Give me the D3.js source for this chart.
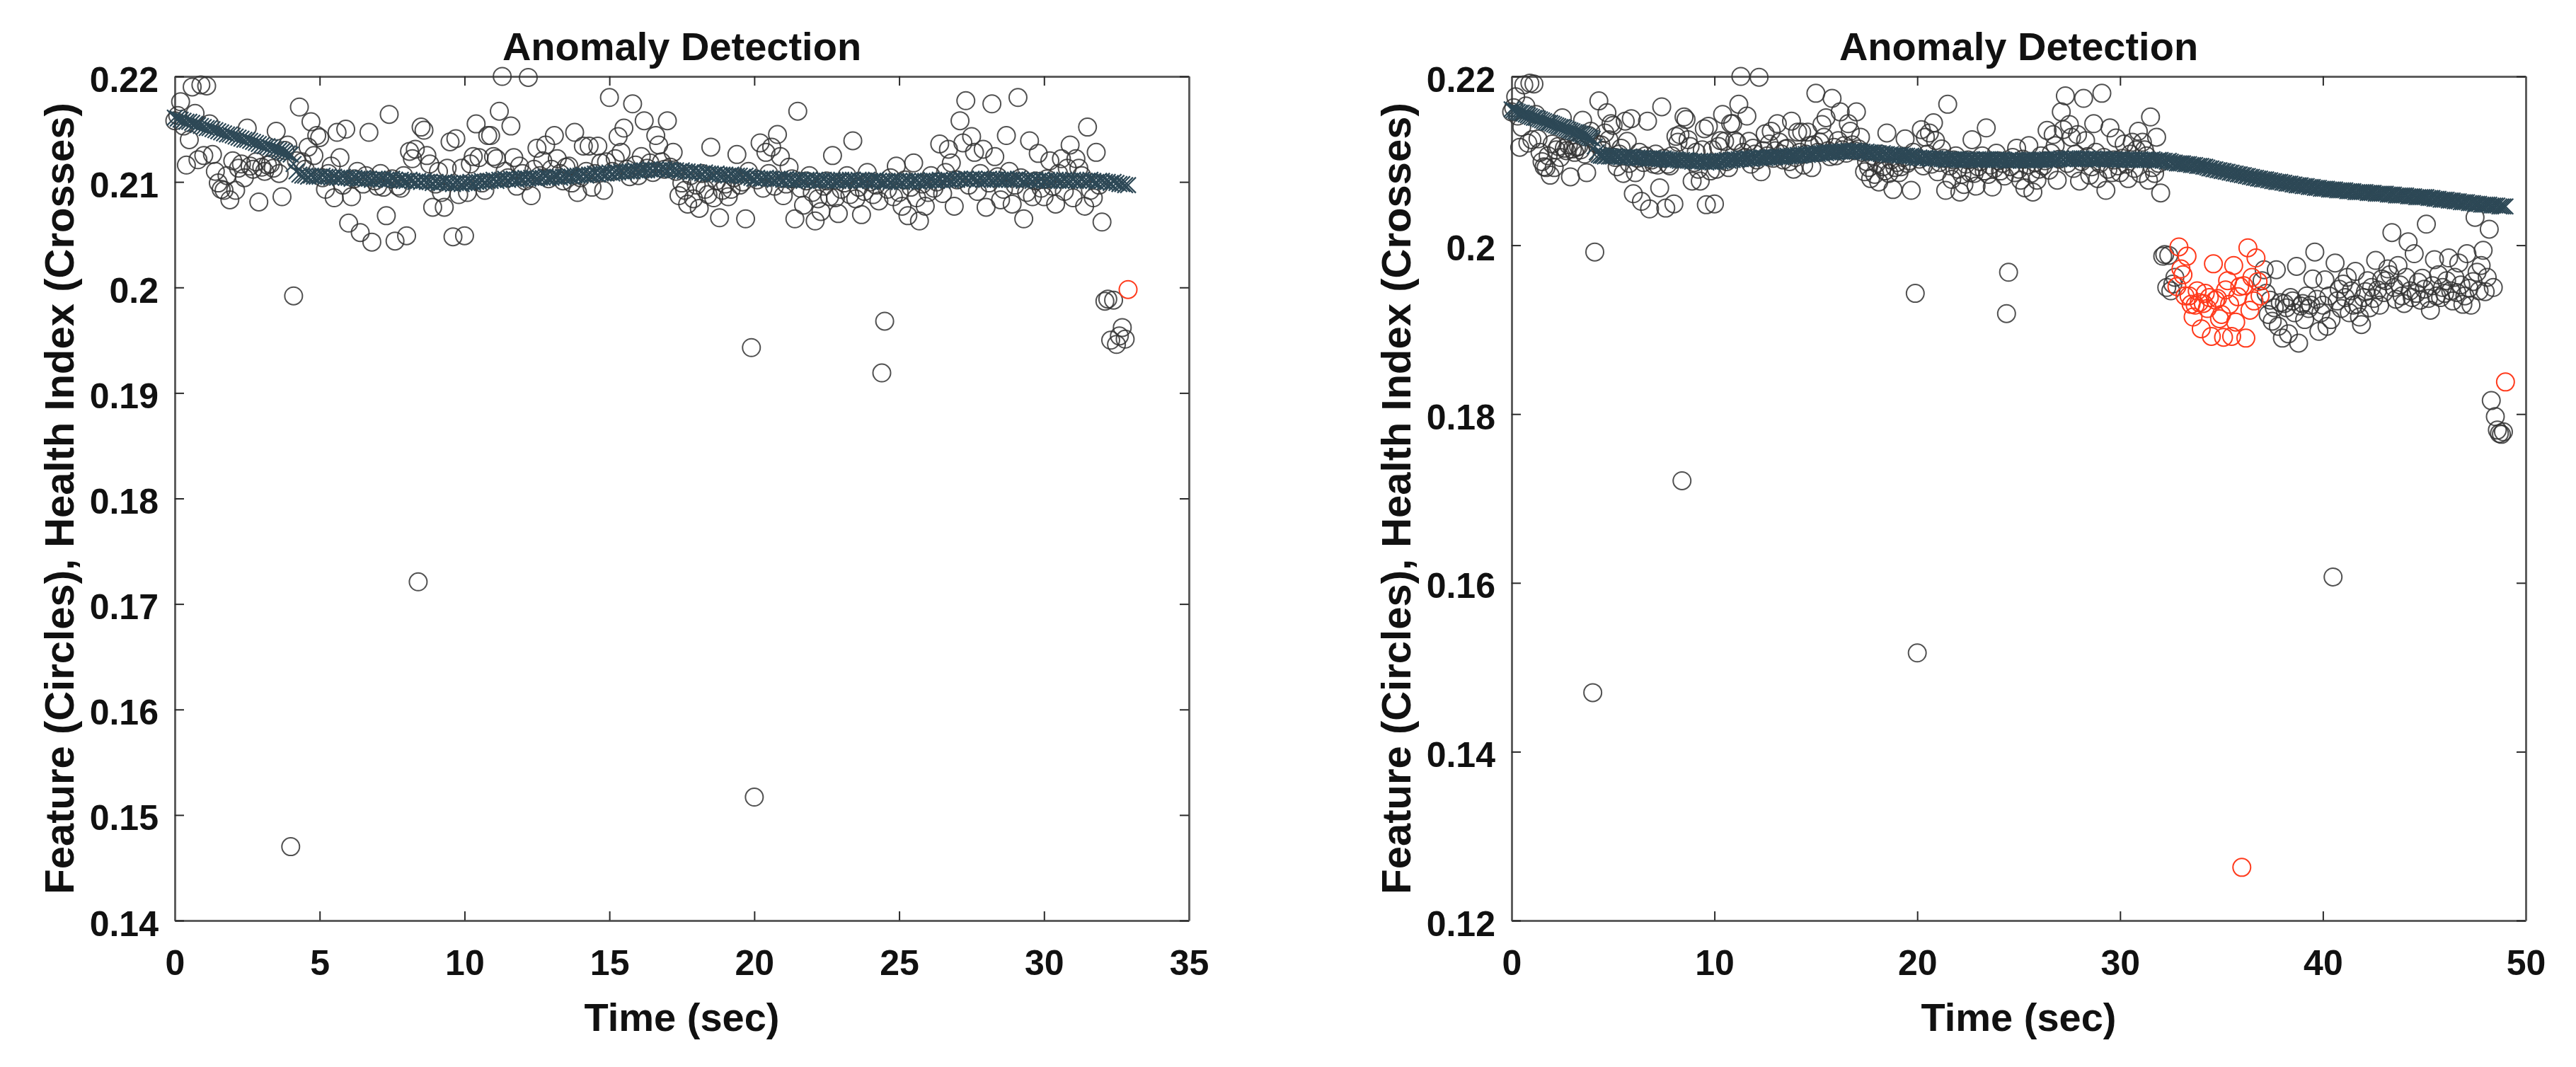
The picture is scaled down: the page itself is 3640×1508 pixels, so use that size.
<!DOCTYPE html>
<html>
<head>
<meta charset="utf-8">
<script src="https://cdn.jsdelivr.net/npm/d3@7"></script>
<style>
body { margin: 0; background: #fff; }
text { font-family: "Liberation Sans", Arial, sans-serif; font-weight: bold; fill: #111; }
</style>
</head>
<body>
<svg id="chart" width="3640" height="1508"></svg>
<script>
// sampling step of the feature (sec)
const dt = 0.1

// feature value at every sample, one row = one second
const feature = [
	0.2158, 0.2163, 0.2176, 0.2153, 0.2116, 0.2140, 0.2190, 0.2165, 0.2121, 0.2192,
	0.2125, 0.2191, 0.2155, 0.2126, 0.2110, 0.2099, 0.2093, 0.2092, 0.2106, 0.2083,
	0.2120, 0.2092, 0.2113, 0.2117, 0.2104, 0.2151, 0.2115, 0.2112, 0.2119, 0.2081,
	0.2114, 0.2110, 0.2116, 0.2117, 0.2113, 0.2148, 0.2108, 0.2086, 0.2130, 0.2135,
	0.1470, 0.1992, 0.2120, 0.2171, 0.2119, 0.2112, 0.2133, 0.2157, 0.2125, 0.2144,
	0.2142, 0.2104, 0.2093, 0.2108, 0.2115, 0.2085, 0.2147, 0.2123, 0.2097, 0.2150,
	0.2061, 0.2086, 0.2103, 0.2110, 0.2052, 0.2098, 0.2106, 0.2147, 0.2043, 0.2101,
	0.2096, 0.2108, 0.2095, 0.2068, 0.2164, 0.2103, 0.2044, 0.2096, 0.2094, 0.2106,
	0.2049, 0.2129, 0.2122, 0.2131, 0.1721, 0.2152, 0.2149, 0.2125, 0.2117, 0.2076,
	0.2098, 0.2110, 0.2090, 0.2076, 0.2113, 0.2138, 0.2048, 0.2141, 0.2088, 0.2113,
	0.2049, 0.2090, 0.2117, 0.2124, 0.2155, 0.2123, 0.2099, 0.2092, 0.2144, 0.2144,
	0.2124, 0.2122, 0.2167, 0.2200, 0.2110, 0.2104, 0.2153, 0.2123, 0.2096, 0.2115,
	0.2108, 0.2101, 0.2199, 0.2087, 0.2112, 0.2132, 0.2106, 0.2120, 0.2135, 0.2103,
	0.2112, 0.2144, 0.2122, 0.2108, 0.2101, 0.2114, 0.2115, 0.2099, 0.2147, 0.2090,
	0.2104, 0.2134, 0.2110, 0.2134, 0.2095, 0.2108, 0.2134, 0.2118, 0.2092, 0.2119,
	0.2180, 0.2110, 0.2122, 0.2143, 0.2128, 0.2151, 0.2112, 0.2105, 0.2174, 0.2116,
	0.2106, 0.2124, 0.2158, 0.2113, 0.2118, 0.2109, 0.2144, 0.2135, 0.2119, 0.2112,
	0.2158, 0.2114, 0.2128, 0.2110, 0.2087, 0.2099, 0.2092, 0.2079, 0.2106, 0.2084,
	0.2097, 0.2075, 0.2108, 0.2093, 0.2088, 0.2133, 0.2085, 0.2101, 0.2066, 0.2092,
	0.2098, 0.2086, 0.2093, 0.2104, 0.2126, 0.2097, 0.2100, 0.2065, 0.2110, 0.1943,
	0.1517, 0.2102, 0.2137, 0.2094, 0.2128, 0.2108, 0.2133, 0.2096, 0.2145, 0.2124,
	0.2087, 0.2098, 0.2114, 0.2103, 0.2065, 0.2167, 0.2094, 0.2078, 0.2101, 0.2106,
	0.2090, 0.2063, 0.2084, 0.2072, 0.2096, 0.2101, 0.2086, 0.2125, 0.2085, 0.2070,
	0.2093, 0.2099, 0.2106, 0.2088, 0.2139, 0.2084, 0.2095, 0.2069, 0.2091, 0.2109,
	0.2100, 0.2088, 0.2097, 0.2082, 0.1919, 0.1968, 0.2093, 0.2104, 0.2086, 0.2115,
	0.2090, 0.2077, 0.2102, 0.2068, 0.2095, 0.2118, 0.2085, 0.2063, 0.2098, 0.2077,
	0.2090, 0.2106, 0.2094, 0.2100, 0.2136, 0.2089, 0.2109, 0.2131, 0.2118, 0.2077,
	0.2102, 0.2158, 0.2137, 0.2177, 0.2097, 0.2143, 0.2128, 0.2091, 0.2108, 0.2131,
	0.2076, 0.2099, 0.2174, 0.2124, 0.2105, 0.2083, 0.2093, 0.2144, 0.2110, 0.2079,
	0.2097, 0.2180, 0.2104, 0.2065, 0.2090, 0.2139, 0.2086, 0.2101, 0.2127, 0.2094,
	0.2086, 0.2103, 0.2120, 0.2096, 0.2079, 0.2108, 0.2122, 0.2091, 0.2113, 0.2135,
	0.2085, 0.2122, 0.2113, 0.2106, 0.2077, 0.2152, 0.2092, 0.2085, 0.2128, 0.2097,
	0.2062, 0.1987, 0.1989, 0.1950, 0.1988, 0.1946, 0.1954, 0.1962, 0.1951, 0.1998,
	0.1972, 0.1965, 0.1940, 0.1987, 0.1940, 0.1930, 0.1915, 0.1929, 0.1946, 0.1932,
	0.1901, 0.1931, 0.1943, 0.1925, 0.1938, 0.1892, 0.1978, 0.1935, 0.1937, 0.1913,
	0.1918, 0.1891, 0.1947, 0.1958, 0.1930, 0.1892, 0.1976, 0.1909, 0.1939, 0.1951,
	0.1263, 0.1952, 0.1890, 0.1997, 0.1923, 0.1962, 0.1934, 0.1985, 0.1957, 0.1940,
	0.1958, 0.1971, 0.1943, 0.1918, 0.1935, 0.1910, 0.1926, 0.1971, 0.1904, 0.1932,
	0.1890, 0.1931, 0.1926, 0.1895, 0.1938, 0.1934, 0.1920, 0.1975, 0.1884, 0.1928,
	0.1931, 0.1912, 0.1940, 0.1925, 0.1929, 0.1960, 0.1992, 0.1936, 0.1898, 0.1920,
	0.1929, 0.1959, 0.1904, 0.1940, 0.1912, 0.1607, 0.1979, 0.1934, 0.1948, 0.1925,
	0.1954, 0.1938, 0.1962, 0.1920, 0.1946, 0.1929, 0.1969, 0.1930, 0.1915, 0.1906,
	0.1938, 0.1945, 0.1958, 0.1926, 0.1950, 0.1937, 0.1982, 0.1947, 0.1929, 0.1960,
	0.1944, 0.1958, 0.1972, 0.1965, 0.2015, 0.1950, 0.1936, 0.1976, 0.1953, 0.1940,
	0.1931, 0.1962, 0.2004, 0.1946, 0.1938, 0.1990, 0.1943, 0.1956, 0.1935, 0.1961,
	0.1948, 0.2025, 0.1937, 0.1923, 0.1952, 0.1983, 0.1940, 0.1965, 0.1938, 0.1950,
	0.1943, 0.1958, 0.1985, 0.1946, 0.1934, 0.1962, 0.1944, 0.1979, 0.1953, 0.1930,
	0.1940, 0.1990, 0.1949, 0.1929, 0.1957, 0.2033, 0.1968, 0.1946, 0.1976, 0.1994,
	0.1945, 0.1962, 0.2019, 0.1816, 0.1950, 0.1797, 0.1781, 0.1777, 0.1776, 0.1779,
	0.1838
]

// health index (crosses), same samples
const healthIndex = [
	0.2161, 0.2160, 0.2159, 0.2158, 0.2157, 0.2157, 0.2156, 0.2155, 0.2154, 0.2153,
	0.2152, 0.2151, 0.2151, 0.2150, 0.2149, 0.2148, 0.2147, 0.2146, 0.2145, 0.2145,
	0.2144, 0.2143, 0.2142, 0.2141, 0.2140, 0.2140, 0.2139, 0.2138, 0.2137, 0.2136,
	0.2135, 0.2134, 0.2134, 0.2133, 0.2132, 0.2131, 0.2130, 0.2129, 0.2128, 0.2127,
	0.2126, 0.2117, 0.2110, 0.2107, 0.2106, 0.2106, 0.2105, 0.2106, 0.2105, 0.2105,
	0.2105, 0.2106, 0.2105, 0.2105, 0.2104, 0.2105, 0.2104, 0.2104, 0.2105, 0.2104,
	0.2104, 0.2103, 0.2104, 0.2103, 0.2103, 0.2104, 0.2103, 0.2103, 0.2102, 0.2103,
	0.2103, 0.2102, 0.2103, 0.2102, 0.2102, 0.2103, 0.2102, 0.2101, 0.2102, 0.2101,
	0.2101, 0.2102, 0.2101, 0.2100, 0.2101, 0.2100, 0.2101, 0.2100, 0.2100, 0.2099,
	0.2100, 0.2099, 0.2099, 0.2100, 0.2099, 0.2099, 0.2098, 0.2099, 0.2099, 0.2098,
	0.2099, 0.2099, 0.2100, 0.2099, 0.2100, 0.2100, 0.2101, 0.2100, 0.2101, 0.2101,
	0.2102, 0.2101, 0.2102, 0.2102, 0.2103, 0.2102, 0.2103, 0.2103, 0.2102, 0.2103,
	0.2103, 0.2104, 0.2103, 0.2104, 0.2104, 0.2103, 0.2104, 0.2104, 0.2105, 0.2104,
	0.2104, 0.2105, 0.2105, 0.2104, 0.2105, 0.2105, 0.2106, 0.2105, 0.2106, 0.2106,
	0.2106, 0.2107, 0.2106, 0.2107, 0.2107, 0.2108, 0.2107, 0.2108, 0.2108, 0.2108,
	0.2109, 0.2108, 0.2109, 0.2109, 0.2110, 0.2109, 0.2110, 0.2110, 0.2110, 0.2111,
	0.2110, 0.2111, 0.2111, 0.2111, 0.2112, 0.2111, 0.2112, 0.2111, 0.2112, 0.2112,
	0.2111, 0.2112, 0.2111, 0.2111, 0.2110, 0.2111, 0.2110, 0.2110, 0.2109, 0.2110,
	0.2109, 0.2109, 0.2108, 0.2109, 0.2108, 0.2108, 0.2107, 0.2108, 0.2107, 0.2107,
	0.2107, 0.2106, 0.2107, 0.2106, 0.2106, 0.2106, 0.2105, 0.2106, 0.2105, 0.2104,
	0.2103, 0.2104, 0.2103, 0.2103, 0.2104, 0.2103, 0.2103, 0.2102, 0.2103, 0.2103,
	0.2102, 0.2103, 0.2102, 0.2102, 0.2101, 0.2102, 0.2102, 0.2101, 0.2102, 0.2102,
	0.2101, 0.2102, 0.2101, 0.2101, 0.2102, 0.2101, 0.2101, 0.2102, 0.2101, 0.2101,
	0.2102, 0.2101, 0.2101, 0.2102, 0.2102, 0.2101, 0.2102, 0.2101, 0.2101, 0.2102,
	0.2101, 0.2101, 0.2102, 0.2101, 0.2100, 0.2100, 0.2101, 0.2100, 0.2101, 0.2101,
	0.2101, 0.2100, 0.2101, 0.2101, 0.2100, 0.2101, 0.2101, 0.2100, 0.2101, 0.2101,
	0.2101, 0.2102, 0.2101, 0.2101, 0.2102, 0.2101, 0.2102, 0.2102, 0.2101, 0.2102,
	0.2102, 0.2103, 0.2102, 0.2103, 0.2102, 0.2103, 0.2103, 0.2102, 0.2103, 0.2102,
	0.2102, 0.2103, 0.2102, 0.2102, 0.2103, 0.2102, 0.2102, 0.2103, 0.2102, 0.2102,
	0.2102, 0.2103, 0.2102, 0.2101, 0.2102, 0.2102, 0.2101, 0.2102, 0.2101, 0.2102,
	0.2101, 0.2102, 0.2101, 0.2101, 0.2102, 0.2101, 0.2101, 0.2102, 0.2101, 0.2101,
	0.2102, 0.2101, 0.2101, 0.2102, 0.2101, 0.2101, 0.2102, 0.2101, 0.2100, 0.2101,
	0.2101, 0.2100, 0.2100, 0.2099, 0.2100, 0.2099, 0.2098, 0.2098, 0.2097, 0.2097,
	0.2097, 0.2097, 0.2096, 0.2096, 0.2096, 0.2095, 0.2095, 0.2095, 0.2094, 0.2094,
	0.2094, 0.2093, 0.2093, 0.2092, 0.2091, 0.2091, 0.2090, 0.2090, 0.2089, 0.2089,
	0.2088, 0.2088, 0.2087, 0.2087, 0.2086, 0.2086, 0.2085, 0.2085, 0.2084, 0.2084,
	0.2083, 0.2083, 0.2082, 0.2082, 0.2081, 0.2081, 0.2080, 0.2080, 0.2079, 0.2079,
	0.2078, 0.2078, 0.2078, 0.2077, 0.2077, 0.2076, 0.2076, 0.2075, 0.2075, 0.2075,
	0.2074, 0.2074, 0.2073, 0.2073, 0.2073, 0.2072, 0.2072, 0.2071, 0.2071, 0.2071,
	0.2070, 0.2070, 0.2070, 0.2069, 0.2069, 0.2069, 0.2068, 0.2068, 0.2068, 0.2067,
	0.2067, 0.2067, 0.2067, 0.2066, 0.2066, 0.2066, 0.2066, 0.2065, 0.2065, 0.2065,
	0.2065, 0.2065, 0.2064, 0.2064, 0.2064, 0.2064, 0.2063, 0.2063, 0.2063, 0.2063,
	0.2063, 0.2063, 0.2062, 0.2062, 0.2062, 0.2062, 0.2061, 0.2061, 0.2061, 0.2061,
	0.2061, 0.2061, 0.2060, 0.2060, 0.2060, 0.2060, 0.2059, 0.2059, 0.2059, 0.2059,
	0.2059, 0.2059, 0.2058, 0.2058, 0.2058, 0.2058, 0.2057, 0.2057, 0.2057, 0.2057,
	0.2057, 0.2057, 0.2056, 0.2056, 0.2056, 0.2055, 0.2055, 0.2055, 0.2054, 0.2054,
	0.2054, 0.2054, 0.2053, 0.2053, 0.2053, 0.2052, 0.2052, 0.2052, 0.2051, 0.2051,
	0.2051, 0.2051, 0.2050, 0.2050, 0.2050, 0.2049, 0.2049, 0.2049, 0.2048, 0.2048,
	0.2048, 0.2048, 0.2048, 0.2047, 0.2047, 0.2047, 0.2047, 0.2046, 0.2046, 0.2046,
	0.2046
]

// what each run covers and where it flagged anomalies (sec)
const leftEnd = 32.9
const rightEnd = 49.0
const leftAnomalies = [[32.9, 32.9]]
const rightAnomalies = [[32.8, 36.9], [49.0, 49.0]]

// ticks
const leftXTicks = [0, 5, 10, 15, 20, 25, 30, 35]
const leftYTicks = [0.14, 0.15, 0.16, 0.17, 0.18, 0.19, 0.2, 0.21, 0.22]
const rightXTicks = [0, 10, 20, 30, 40, 50]
const rightYTicks = [0.12, 0.14, 0.16, 0.18, 0.2, 0.22]

const titleText = 'Anomaly Detection'
const xLabelText = 'Time (sec)'
const yLabelText = 'Feature (Circles), Health Index (Crosses)'

const svg = d3.select('#chart')
const plotTop = 108
const plotBottom = 1301
const tick = 13
const black = '#333333'
const red = '#ff3a1c'
const crossColor = '#2d4856'

const data = feature.map((f, i) => ({ t: +(i * dt).toFixed(1), feature: f, health: healthIndex[i] }))

function inRanges(t, ranges) {
	return ranges.some(([a, b]) => t >= a - 1e-6 && t <= b + 1e-6)
}

const fmt = d => String(+d.toFixed(2))

function styleAxis(g) {
	g.attr('font-size', 50).attr('font-family', null)
	g.select('.domain').attr('stroke', '#5e5e5e').attr('stroke-width', 3)
	g.selectAll('.tick line').attr('stroke', '#2a2a2a').attr('stroke-width', 2)
	g.selectAll('.tick text').attr('fill', '#111')
}

function drawPanel(p) {
	const g = svg.append('g')
	const x = d3.scaleLinear().domain(d3.extent(p.xTicks)).range([p.left, p.right])
	const y = d3.scaleLinear().domain(d3.extent(p.yTicks)).range([plotBottom, plotTop])
	const pts = data.filter(d => d.t <= p.end + 1e-6)

	// box with inward ticks
	g.append('g').attr('transform', `translate(0,${plotBottom})`)
		.call(d3.axisBottom(x).tickValues(p.xTicks).tickSizeInner(-tick).tickSizeOuter(0).tickPadding(41))
		.call(styleAxis)
	g.append('g').attr('transform', `translate(0,${plotTop})`)
		.call(d3.axisTop(x).tickValues(p.xTicks).tickSizeInner(-tick).tickSizeOuter(0).tickFormat(''))
		.call(styleAxis)
	g.append('g').attr('transform', `translate(${p.left},0)`)
		.call(d3.axisLeft(y).tickValues(p.yTicks).tickSizeInner(-tick).tickSizeOuter(0).tickPadding(23).tickFormat(fmt))
		.call(styleAxis)
		.selectAll('.tick text').attr('dy', '0.42em')
	g.append('g').attr('transform', `translate(${p.right},0)`)
		.call(d3.axisRight(y).tickValues(p.yTicks).tickSizeInner(-tick).tickSizeOuter(0).tickFormat(''))
		.call(styleAxis)

	// feature circles
	g.append('g').selectAll('circle')
		.data(pts.filter(d => !inRanges(d.t, p.anomalies)))
		.join('circle')
			.attr('cx', d => x(d.t))
			.attr('cy', d => y(d.feature))
			.attr('r', 12.5)
			.attr('fill', 'none')
			.attr('stroke', black)
			.attr('stroke-opacity', 0.85)
			.attr('stroke-width', 2)

	// health index crosses
	g.append('g').selectAll('path')
		.data(pts)
		.join('path')
			.attr('d', 'M-11,-11L11,11M-11,11L11,-11')
			.attr('transform', d => `translate(${x(d.t)},${y(d.health)})`)
			.attr('fill', 'none')
			.attr('stroke', crossColor)
			.attr('stroke-width', 2.2)

	// anomalies in red
	g.append('g').selectAll('circle')
		.data(pts.filter(d => inRanges(d.t, p.anomalies)))
		.join('circle')
			.attr('cx', d => x(d.t))
			.attr('cy', d => y(d.feature))
			.attr('r', 12.5)
			.attr('fill', 'none')
			.attr('stroke', red)
			.attr('stroke-width', 2)

	const cx = (p.left + p.right) / 2
	g.append('text')
		.attr('x', cx).attr('y', 85)
		.attr('text-anchor', 'middle')
		.attr('font-size', 56)
		.text(titleText)
	g.append('text')
		.attr('x', cx).attr('y', 1457)
		.attr('text-anchor', 'middle')
		.attr('font-size', 56)
		.text(xLabelText)
	g.append('text')
		.attr('transform', `translate(${p.left - 143},${(plotTop + plotBottom) / 2}) rotate(-90)`)
		.attr('text-anchor', 'middle')
		.attr('font-size', 58)
		.text(yLabelText)
}

drawPanel({ left: 247, right: 1680, xTicks: leftXTicks, yTicks: leftYTicks, end: leftEnd, anomalies: leftAnomalies })
drawPanel({ left: 2136, right: 3569, xTicks: rightXTicks, yTicks: rightYTicks, end: rightEnd, anomalies: rightAnomalies })
</script>
</body>
</html>
